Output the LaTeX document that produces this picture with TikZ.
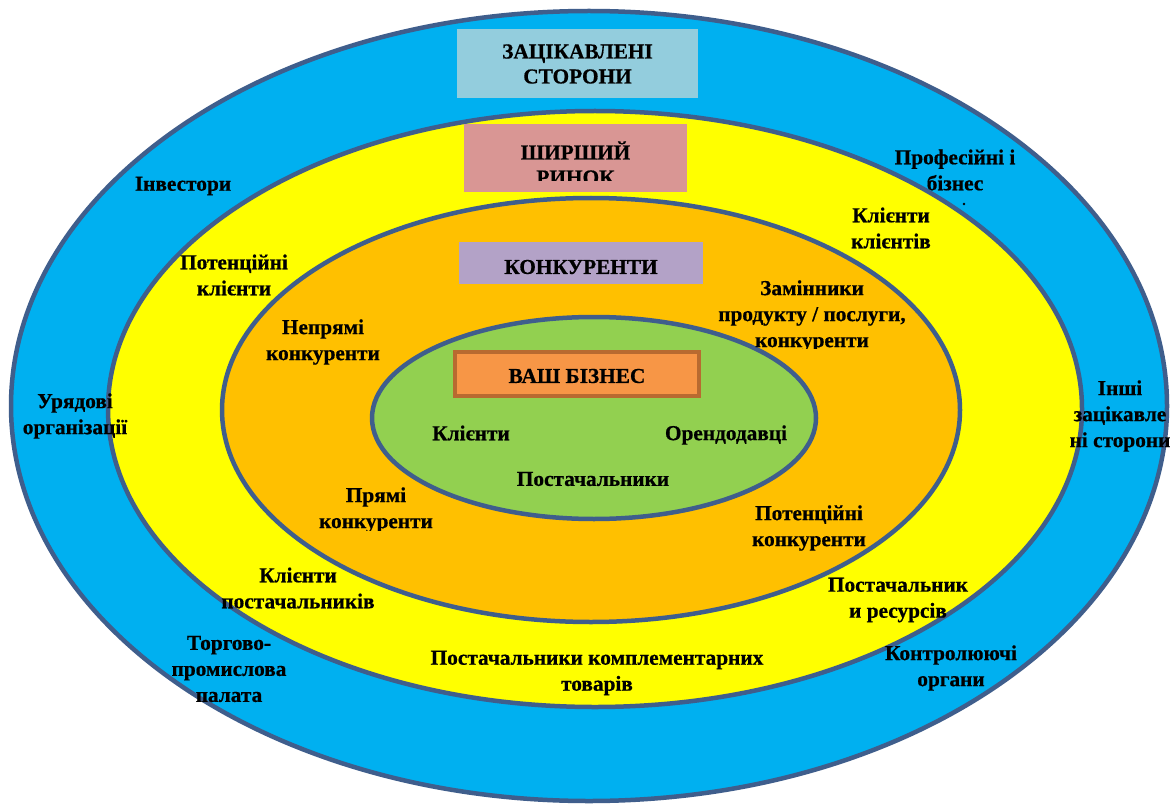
\documentclass[tikz,border=0pt]{standalone}
\usepackage{fontspec}
\setmainfont{Liberation Serif}[BoldFeatures={FakeBold=0.6}]
\definecolor{outerblue}{HTML}{00B0F0}
\definecolor{ringline}{HTML}{3F5E8C}
\definecolor{ringyellow}{HTML}{FFFF00}
\definecolor{ringorange}{HTML}{FFC000}
\definecolor{ringgreen}{HTML}{92D050}
\definecolor{boxblue}{HTML}{93CDDD}
\definecolor{boxrose}{HTML}{D99694}
\definecolor{boxlilac}{HTML}{B3A2C7}
\definecolor{boxorange}{HTML}{F79646}
\definecolor{boxorangeline}{HTML}{B86A30}
\tikzset{
  ring/.style={draw=ringline, line width=4.5pt},
  lbl/.style={font=\fontsize{21.3}{26}\selectfont\bfseries, align=center, inner sep=0pt, text=black},
  hdr/.style={lbl, font=\fontsize{21.3}{25}\selectfont\bfseries},
}
\begin{document}
\begin{tikzpicture}[x=1pt,y=-1pt]
\useasboundingbox (0,0) rectangle (1172,805);
\fill[white] (0,0) rectangle (1172,805);
% rings
\draw[ring, fill=outerblue] (589,406) ellipse [x radius=578, y radius=395];
\draw[ring, fill=ringyellow] (595,409) ellipse [x radius=487, y radius=298];
\draw[ring, fill=ringorange] (591,410) ellipse [x radius=369, y radius=212];
\draw[ring, fill=ringgreen] (594,418) ellipse [x radius=222, y radius=101];
% header boxes
\fill[boxblue] (457,29) rectangle (698,98);
\node[hdr] (stake) at (577.5,64) {ЗАЦІКАВЛЕНІ\\СТОРОНИ};
\fill[boxrose] (464,124) rectangle (687,192);
\begin{scope}
\clip (464,124) rectangle (687,181);
\node[hdr] (market) at (575.5,163) {ШИРШИЙ\\РИНОК};
\end{scope}
\fill[boxlilac] (459,242) rectangle (703,284);
\begin{scope}
\clip (459,242) rectangle (703,276);
\node[hdr] (comp) at (581,267) {КОНКУРЕНТИ};
\end{scope}
\draw[draw=boxorangeline, line width=3.5pt, fill=boxorange] (455,352) rectangle (699,396);
\node[hdr] (biz) at (577,376) {ВАШ БІЗНЕС};
% outer ring labels
\node[lbl] (inv) at (183,186) {Інвестори};
\node[lbl] (prof) at (955,170) {Професійні і\\бізнес};
\fill[black] (964,204) circle (1.4);
\node[lbl] (gov) at (75,416) {Урядові\\організації};
\node[lbl] (other) at (1120,416) {Інші\\зацікавле\\ні сторони};
\node[lbl] (chamber) at (229,669) {Торгово-\\промислова\\палата};
\node[lbl] (control) at (951,668) {Контролюючі\\органи};
% yellow ring labels
\node[lbl] (cc) at (891,228) {Клієнти\\клієнтів};
\node[lbl] (potc) at (234,275) {Потенційні\\клієнти};
\node[lbl] (cs) at (298,588) {Клієнти\\постачальників};
\node[lbl] (rs) at (898,600) {Постачальник\\и ресурсів};
\node[lbl] (compl) at (597,673) {Постачальники комплементарних\\товарів};
% orange ring labels
\node[lbl] (indir) at (323,342) {Непрямі\\конкуренти};
\begin{scope}
\clip (700,270) rectangle (960,348);
\node[lbl] (subst) at (812,316) {Замінники\\продукту / послуги,\\конкуренти};
\end{scope}
\begin{scope}
\clip (300,470) rectangle (460,530);
\node[lbl] (direct) at (376,510) {Прямі\\конкуренти};
\end{scope}
\node[lbl] (potcomp) at (809,528) {Потенційні\\конкуренти};
% green labels
\node[lbl] (cli) at (471,433) {Клієнти};
\node[lbl] (land) at (726,435) {Орендодавці};
\node[lbl] (sup) at (593,479) {Постачальники};
\end{tikzpicture}
\end{document}
